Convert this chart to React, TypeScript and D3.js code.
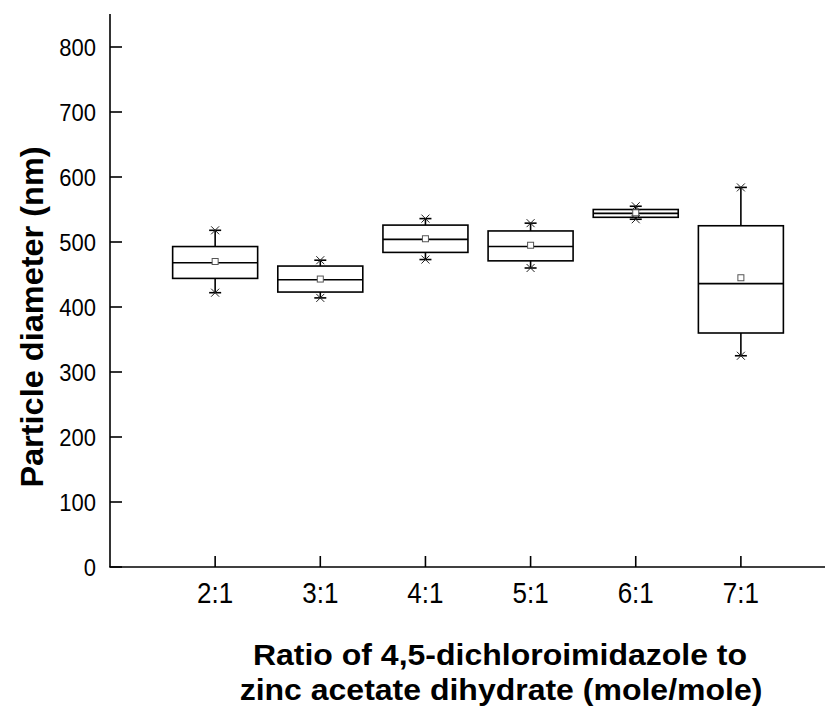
import React from "react";
import * as d3 from "d3";

const categories = ["2:1", "3:1", "4:1", "5:1", "6:1", "7:1"];
const whiskerLow = [422, 414, 473, 460, 535, 325];
const q1 = [444, 423, 484, 471, 538, 360];
const median = [468, 442, 504, 493, 544, 436];
const q3 = [493, 463, 526, 517, 550, 525];
const whiskerHigh = [518, 472, 536, 529, 555, 584];
const means = [470, 443, 505, 495, 545, 445];
const yTicks = [0, 100, 200, 300, 400, 500, 600, 700, 800];

const W = 825;
const H = 713;

export default function App() {
  const x = d3.scaleLinear().domain([0, 6.8]).range([110, 825]);
  const y = d3.scaleLinear().domain([0, 800]).range([567, 47]);
  const x0 = x(0);
  const yTop = 14;
  const halfBox = 42.5;
  const font = "'Liberation Sans', Arial, sans-serif";

  return (
    <svg
      width={W}
      height={H}
      style={{ position: "absolute", left: 0, top: 0, background: "#fff" }}
      fontFamily={font}
    >
      <rect x={0} y={0} width={W} height={H} fill="#fff" />
      {/* axes */}
      <line x1={x0} x2={x0} y1={yTop} y2={y(0)} stroke="#000" strokeWidth={1.6} />
      <line x1={x0 - 0.8} x2={W} y1={y(0)} y2={y(0)} stroke="#000" strokeWidth={1.6} />
      {yTicks.map((t) => (
        <g key={"yt" + t}>
          <line x1={x0} x2={x0 + 12} y1={y(t)} y2={y(t)} stroke="#000" strokeWidth={1.6} />
          <text
            x={96}
            y={y(t)}
            textAnchor="end"
            fontSize={22}
            transform={`translate(0, ${y(t)}) scale(1, 1.1) translate(0, ${-y(t)})`}
            dy="0.36em"
            fill="#000"
          >
            {t}
          </text>
        </g>
      ))}
      {categories.map((c, i) => {
        const cx = x(i + 1);
        return (
          <g key={"xt" + c}>
            <line x1={cx} x2={cx} y1={y(0)} y2={y(0) - 11} stroke="#000" strokeWidth={1.6} />
            <text
              x={cx}
              y={603}
              textAnchor="middle"
              fontSize={26}
              transform={`translate(0, 603) scale(1, 1.1) translate(0, -603)`}
              fill="#000"
            >
              {c}
            </text>
          </g>
        );
      })}
      {/* boxes */}
      {categories.map((c, i) => {
        const cx = x(i + 1);
        const yl = y(whiskerLow[i]);
        const yh = y(whiskerHigh[i]);
        const s = 4;
        const star = (yy: number) => (
          <g>
            <line x1={cx - 6} x2={cx + 6} y1={yy} y2={yy} stroke="#000" strokeWidth={1.6} />
            <line x1={cx - s} x2={cx + s} y1={yy - s} y2={yy + s} stroke="#222" strokeWidth={1} />
            <line x1={cx - s} x2={cx + s} y1={yy + s} y2={yy - s} stroke="#222" strokeWidth={1} />
          </g>
        );
        return (
          <g key={"box" + c}>
            <line x1={cx} x2={cx} y1={yh} y2={y(q3[i])} stroke="#000" strokeWidth={1.6} />
            <line x1={cx} x2={cx} y1={y(q1[i])} y2={yl} stroke="#000" strokeWidth={1.6} />
            <rect
              x={cx - halfBox}
              y={y(q3[i])}
              width={halfBox * 2}
              height={y(q1[i]) - y(q3[i])}
              fill="none"
              stroke="#000"
              strokeWidth={1.6}
            />
            <line
              x1={cx - halfBox}
              x2={cx + halfBox}
              y1={y(median[i])}
              y2={y(median[i])}
              stroke="#000"
              strokeWidth={1.6}
            />
            <rect
              x={cx - 3}
              y={y(means[i]) - 3}
              width={6}
              height={6}
              fill="#fff"
              stroke="#555"
              strokeWidth={1}
            />
            {star(yh)}
            {star(yl)}
          </g>
        );
      })}
      {/* titles */}
      <text
        transform="translate(43, 317) rotate(-90) scale(1, 0.95)"
        textAnchor="middle"
        fontSize={32.5}
        fontWeight="bold"
        fill="#000"
      >
        Particle diameter (nm)
      </text>
      <text
        x={500}
        y={665}
        textAnchor="middle"
        fontSize={32}
        fontWeight="bold"
        transform="translate(0, 665) scale(1, 0.95) translate(0, -665)"
        fill="#000"
      >
        Ratio of 4,5-dichloroimidazole to
      </text>
      <text
        x={501}
        y={700}
        textAnchor="middle"
        fontSize={32}
        fontWeight="bold"
        transform="translate(0, 700) scale(1, 0.95) translate(0, -700)"
        fill="#000"
      >
        zinc acetate dihydrate (mole/mole)
      </text>
    </svg>
  );
}
